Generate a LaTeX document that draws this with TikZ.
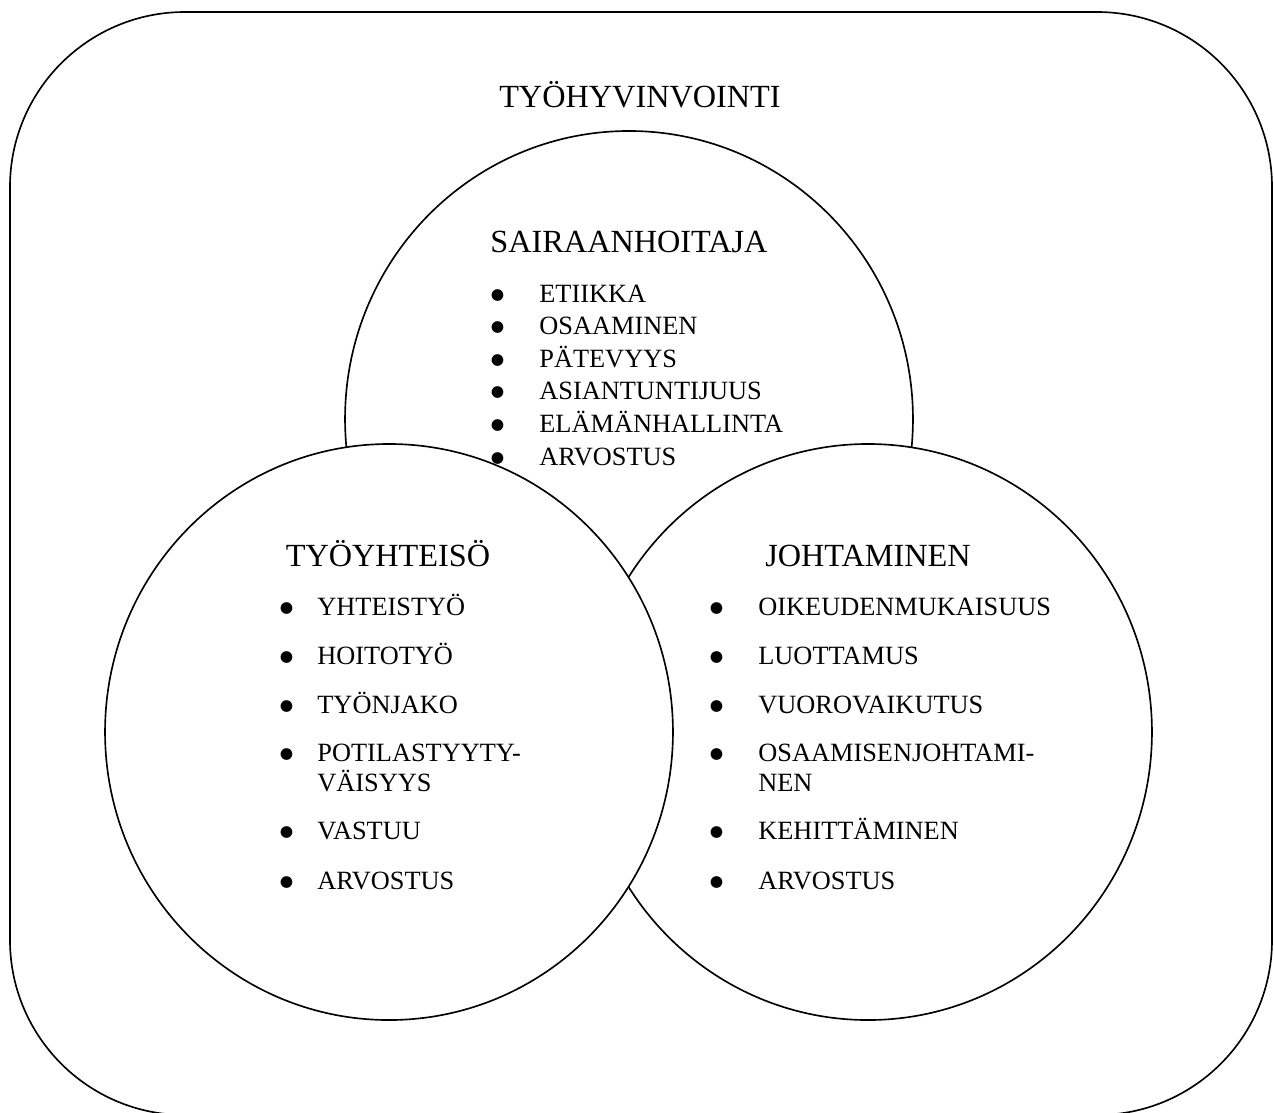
\documentclass[tikz,border=0pt]{standalone}
\usepackage{fontspec}
\setmainfont{Liberation Serif}
\newfontfamily\merkkifontti{DejaVu Sans}
\usetikzlibrary{shapes.geometric}
\tikzset{
	kehys/.style={draw, line width=0.75pt, rounded corners=2.8cm},
	piiri/.style={ellipse, draw, fill=white, line width=0.75pt, 
		minimum width=9.09cm, minimum height=9.22cm, inner sep=0pt},
	otsikko/.style={font=\fontsize{14.7}{16}\selectfont, anchor=base, inner sep=0pt},
	kohta/.style={font=\fontsize{12}{14}\selectfont, anchor=base west, inner sep=0pt}
}
\newcommand{\pallo}[1]{\makebox[#1][l]{\raisebox{1.1pt}{\merkkifontti\fontsize{7}{7}\selectfont ●}}}
\newcommand{\kaksirivia}[2]{\begin{tabular}[t]{@{}l@{}}#1\\#2\end{tabular}}

\begin{document}
\begin{tikzpicture}[x=0.016cm, y=-0.016cm]
	\useasboundingbox (0,0) rectangle (1274,1112);
	% kehys ja ympyrat
	\draw[kehys] (10,12) rectangle (1272,1115);
	\node[piiri] (sairaanhoitaja) at (629,419) {};
	\node[piiri] (johtaminen) at (868,732) {};
	\node[piiri] (tyoyhteiso) at (389,732) {};
	
	% otsikot
	\node[otsikko] (tyohyvinvointi) at (640,107) {TYÖHYVINVOINTI};
	\node[otsikko] (t1) at (629,252) {SAIRAANHOITAJA};
	\node[otsikko] (t2) at (388,566) {TYÖYHTEISÖ};
	\node[otsikko] (t3) at (868,566) {JOHTAMINEN};
	
	% luettelot
	\foreach \teksti/\yy [count=\i] in {ETIIKKA/302, OSAAMINEN/334, PÄTEVYYS/367, 
		ASIANTUNTIJUUS/399, ELÄMÄNHALLINTA/432, ARVOSTUS/465}
		\node[kohta] (s\i) at (490.4,\yy) {\pallo{22.1pt}\teksti};
	
	\foreach \teksti/\yy [count=\i] in {YHTEISTYÖ/615, HOITOTYÖ/664, TYÖNJAKO/713, 
		{\kaksirivia{POTILASTYYTY-}{VÄISYYS}}/761, VASTUU/839, ARVOSTUS/889}
		\node[kohta] (y\i) at (279.4,\yy) {\pallo{17.1pt}\teksti};
	
	\foreach \teksti/\yy [count=\i] in {OIKEUDENMUKAISUUS/615, LUOTTAMUS/664, VUOROVAIKUTUS/713, 
		{\kaksirivia{OSAAMISENJOHTAMI-}{NEN}}/761, KEHITTÄMINEN/839, ARVOSTUS/889}
		\node[kohta] (j\i) at (709.4,\yy) {\pallo{22.1pt}\teksti};
\end{tikzpicture}
\end{document}
